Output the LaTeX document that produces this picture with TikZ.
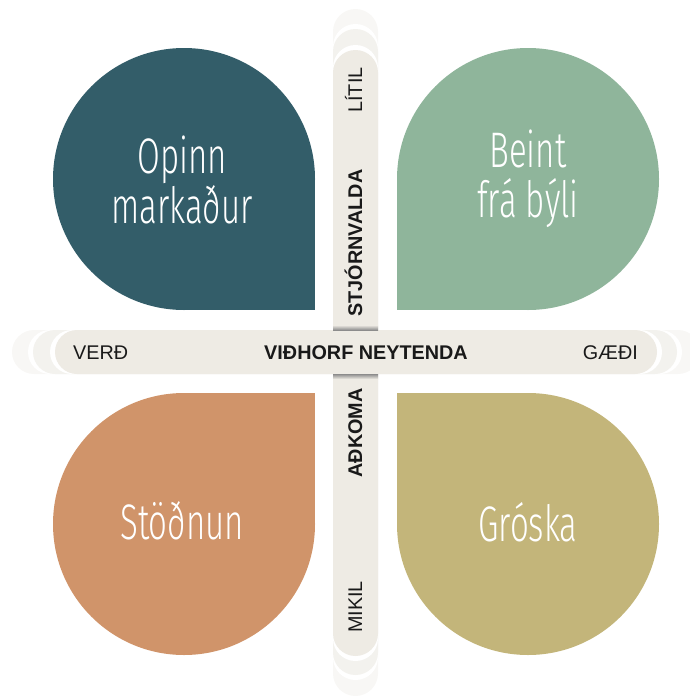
\documentclass[tikz,border=0pt]{standalone}
\usepackage{fontspec}
\setmainfont{Liberation Sans}
\newfontfamily\petalfont{Fira Sans}[UprightFont={* Light}, FakeStretch=0.66]

\definecolor{petalteal}{RGB}{51,93,105}
\definecolor{petalsage}{RGB}{143,181,155}
\definecolor{petalclay}{RGB}{208,148,106}
\definecolor{petalstraw}{RGB}{195,181,122}
\definecolor{barfill}{RGB}{238,235,228}
\definecolor{barghost}{RGB}{243,242,238}
\definecolor{barghostb}{RGB}{248,247,245}
\definecolor{labelink}{RGB}{25,25,25}

\begin{document}
\begin{tikzpicture}[x=1pt, y=-1pt,
		hpill/.style={rounded corners=22pt},
		vpill/.style={rounded corners=22.5pt},
		petaltext/.style={text=white, align=center, inner sep=0pt,
						font=\petalfont\fontsize{50}{50}\selectfont},
		barlabel/.style={text=labelink, inner sep=0pt, text height=14.2pt, text depth=0pt,
						font=\fontsize{19.8}{20}\selectfont},
		barbold/.style={barlabel, font=\fontsize{19.8}{20}\selectfont\bfseries}]
			\useasboundingbox (0,0) rectangle (690,696);

			% petals: a circle with the quarter towards the middle squared off
			\fill[petalteal] (184,179) circle[radius=131pt];
			\fill[petalteal] (184,179) rectangle (315,310);
			\fill[petalsage] (528,179) circle[radius=131pt];
			\fill[petalsage] (528,179) rectangle (397,310);
			\fill[petalclay] (184,524) circle[radius=131pt];
			\fill[petalclay] (184,524) rectangle (315,393);
			\fill[petalstraw] (528,524) circle[radius=131pt];
			\fill[petalstraw] (528,524) rectangle (397,393);

			% vertical bar
			\fill[vpill, barghostb] (333,9) rectangle (378,696);
			\fill[vpill, white] (333,24) rectangle (378,680);
			\fill[vpill, barghost] (333,29) rectangle (378,675);
			\fill[vpill, white] (333,45) rectangle (378,661);
			\fill[vpill, barfill] (333,50) rectangle (378,656);

			% horizontal bar
			\fill[hpill, barghostb] (12,330) rectangle (700,374);
			\fill[hpill, white] (28,330) rectangle (682,374);
			\fill[hpill, barghost] (33,330) rectangle (677,374);
			\fill[hpill, white] (50,330) rectangle (662,374);
			\fill[hpill, barfill] (55,330) rectangle (657,374);
			\shade[top color=barfill, bottom color=black!45] (333,325) rectangle (378,330);
			\shade[top color=black!45, bottom color=barfill] (333,374) rectangle (378,379);

			\node[petaltext] (open) at (182,180) {Opinn\\markaður};
			\node[petaltext] (farm) at (528,179) {Beint\\frá býli};
			\node[petaltext] (stag) at (182,521) {Stöðnun};
			\node[petaltext] (growth) at (528,522) {Gróska};

			\node[barlabel, anchor=west] (price) at (73,352) {VERÐ};
			\node[barlabel, anchor=east] (quality) at (638,352) {GÆÐI};
			\node[barbold] (attitude) at (366,352) {VIÐHORF NEYTENDA};

			\node[barlabel, rotate=90] (low) at (355,90) {LÍTIL};
			\node[barbold, rotate=90] (gov) at (355,243) {STJÓRNVALDA};
			\node[barbold, rotate=90] (share) at (355,433) {AÐKOMA};
			\node[barlabel, rotate=90] (high) at (355,607) {MIKIL};
		\end{tikzpicture}
\end{document}
